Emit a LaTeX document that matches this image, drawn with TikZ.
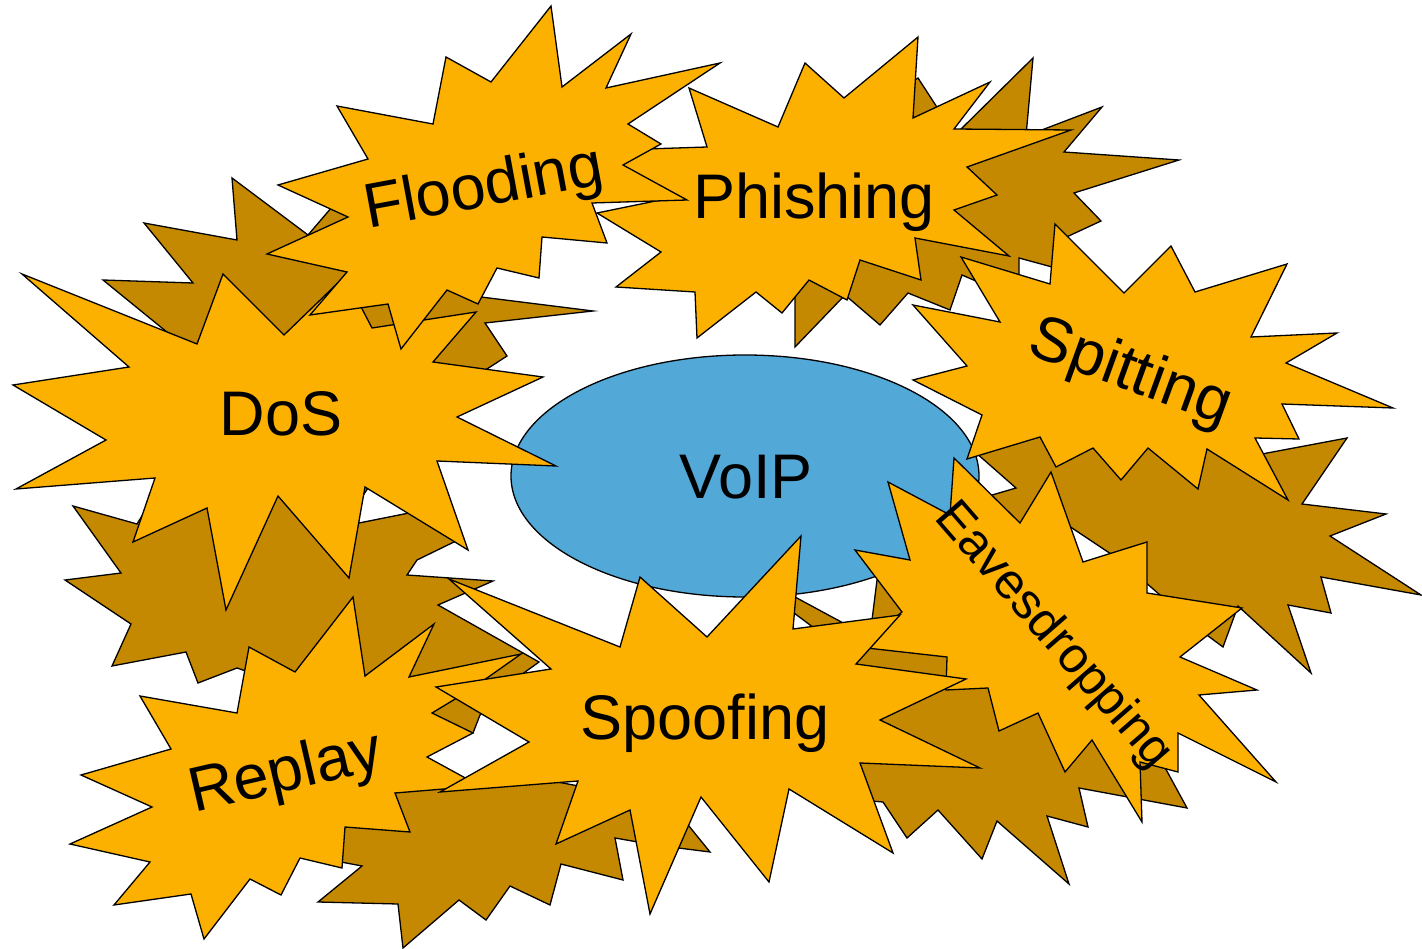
\documentclass[tikz,border=0pt]{standalone}
\usepackage{fontspec}
\setmainfont{Liberation Sans}
\definecolor{burstfill}{RGB}{252,176,0}
\definecolor{burstback}{RGB}{196,137,0}
\definecolor{voipblue}{RGB}{82,168,214}
\tikzset{
  frontface/.style={draw=black, fill=burstfill, line width=1.3pt},
  backface/.style={draw=black, fill=burstback, line width=1.3pt},
  hubface/.style={draw=black, fill=voipblue, line width=1.3pt},
  bigtext/.style={font=\fontsize{63}{70}\selectfont, inner sep=0pt},
  smalltext/.style={font=\fontsize{50}{56}\selectfont, inner sep=0pt},
}
\begin{document}
\begin{tikzpicture}[x=1pt,y=-1pt]
\useasboundingbox (0,0) rectangle (1422,949);

% ---- extruded back faces of the bursts ----
% DoS
\draw[backface] (103,280) -- (193,283) -- (144,223) -- (237,240) -- (232,178) -- (308,235) -- (332,207) -- (420,220) -- (465,295) -- (593,311) -- (485,323) -- (507,356) -- (470,380) -- (400,440) -- (340,530) -- (359,523) -- (409,513) -- (458,540) -- (417,560) -- (407,575) -- (493,581) -- (438,605) -- (539,662) -- (500,690) -- (480,715) -- (473,733) -- (440,730) -- (380,700) -- (300,690) -- (237,668) -- (198,683) -- (186,652) -- (112,666) -- (131,624) -- (65,580) -- (121,573) -- (73,506) -- (137,524) -- (170,470) -- (200,359) -- cycle;
% Phishing
\draw[backface] (880,100) -- (918,78) -- (955,135) -- (1033,58) -- (1026,136) -- (1102,107) -- (1064,152) -- (1179,160) -- (1074,193) -- (1101,221) -- (1060,240) -- (1052,267) -- (1019,258) -- (1019,285) -- (985,285) -- (962,275) -- (950,310) -- (908,293) -- (880,325) -- (845,295) -- (795,347) -- (795,297) -- (790,280) -- (800,200) -- cycle;
% Spitting
\draw[backface] (972,445) -- (1100,430) -- (1200,440) -- (1230,460) -- (1347,438) -- (1302,504) -- (1386,514) -- (1330,536) -- (1421,595) -- (1321,577) -- (1331,613) -- (1288,605) -- (1311,673) -- (1238,606) -- (1223,647) -- (1200,630) -- (1120,560) -- (1060,520) -- (1020,540) -- (975,500) -- (1016,488) -- (975,452) -- cycle;
% Eavesdropping
\draw[backface] (877,580) -- (930,560) -- (1150,620) -- (1150,740) -- (1187,808) -- (1079,788) -- (1088,827) -- (1047,816) -- (1069,884) -- (997,821) -- (982,859) -- (938,810) -- (907,838) -- (883,802) -- (860,800) -- (820,700) -- (830,640) -- (790,610) -- (795,597) -- (845,624) -- (872,620) -- cycle;
% Replay
\draw[backface] (330,830) -- (320,858) -- (362,866) -- (318,902) -- (398,904) -- (403,948) -- (459,900) -- (486,920) -- (510,886) -- (550,905) -- (561,864) -- (623,880) -- (615,838) -- (655,845) -- (710,852) -- (680,815) -- (600,790) -- (520,775) -- (470,786) -- (400,785) -- cycle;

% ---- central ellipse ----
\draw[hubface] (745,476) ellipse [x radius=234, y radius=121];

% ---- front faces of the bursts ----
% Phishing
\draw[frontface] (689,88) -- (778,127) -- (805,63) -- (844,98) -- (918,37) -- (913,118) -- (990,82) -- (954,129) -- (1071,130) -- (967,167) -- (997,195) -- (954,210) -- (1009,256) -- (915,238) -- (921,280) -- (860,260) -- (847,300) -- (809,280) -- (782,313) -- (756,292) -- (697,338) -- (695,292) -- (616,287) -- (661,252) -- (597,213) -- (675,197) -- (612,175) -- (615,150) -- (707,147) -- cycle;
% Spitting
\draw[frontface] (1055,224) -- (1124,293) -- (1171,246) -- (1195,292) -- (1287,264) -- (1251,337) -- (1337,333) -- (1286,363) -- (1393,408) -- (1282,404) -- (1299,439) -- (1255,438) -- (1288,500) -- (1207,449) -- (1198,489) -- (1148,448) -- (1121,480) -- (1093,448) -- (1056,467) -- (1040,437) -- (967,459) -- (982,415) -- (913,380) -- (967,366) -- (913,305) -- (1000,322) -- (961,257) -- (1050,284) -- cycle;
% DoS
\draw[frontface] (22,274) -- (197,344) -- (223,274) -- (284,335) -- (345,276) -- (372,328) -- (476,312) -- (433,362) -- (543,377) -- (457,417) -- (556,466) -- (437,461) -- (468,550) -- (365,487) -- (349,578) -- (278,496) -- (226,610) -- (207,508) -- (133,542) -- (155,478) -- (16,489) -- (106,440) -- (13,385) -- (129,367) -- cycle;
% Flooding
\draw[frontface] (337,106) -- (433,124) -- (446,57) -- (491,82) -- (551,6) -- (562,87) -- (631,34) -- (606,88) -- (720,63) -- (628,124) -- (661,144) -- (623,165) -- (687,200) -- (592,203) -- (607,243) -- (542,237) -- (539,278) -- (497,268) -- (478,304) -- (447,290) -- (401,349) -- (388,304) -- (310,315) -- (347,272) -- (267,254) -- (348,217) -- (278,185) -- (368,159) -- cycle;
% Eavesdropping
\draw[frontface] (954,458) -- (1020,523) -- (1051,472) -- (1083,562) -- (1147,542) -- (1147,593) -- (1242,608) -- (1180,657) -- (1257,690) -- (1199,695) -- (1276,782) -- (1178,733) -- (1178,772) -- (1140,762) -- (1142,822) -- (1092,740) -- (1065,772) -- (1038,713) -- (999,731) -- (988,688) -- (946,690) -- (947,657) -- (858,647) -- (902,612) -- (855,550) -- (910,560) -- (888,482) -- (950,515) -- cycle;
% Replay
\draw[frontface] (140,696) -- (237,713) -- (249,647) -- (295,672) -- (353,597) -- (365,676) -- (434,624) -- (409,677) -- (521,654) -- (470,690) -- (432,713) -- (473,733) -- (427,757) -- (480,786) -- (395,793) -- (410,832) -- (345,827) -- (342,868) -- (300,858) -- (281,895) -- (250,879) -- (204,939) -- (191,894) -- (114,905) -- (150,862) -- (70,844) -- (152,807) -- (81,775) -- (171,749) -- cycle;
% Spoofing
\draw[frontface] (449,579) -- (620,647) -- (640,577) -- (707,637) -- (801,536) -- (793,629) -- (900,615) -- (856,664) -- (966,679) -- (880,720) -- (980,768) -- (860,763) -- (893,853) -- (789,789) -- (769,882) -- (701,797) -- (650,914) -- (630,810) -- (556,844) -- (578,781) -- (440,792) -- (529,742) -- (436,687) -- (551,669) -- cycle;

% ---- labels ----
\node[bigtext] (voip) at (746,477) {VoIP};
\node[bigtext] (dos) at (281,414) {DoS};
\node[bigtext, rotate=10.5] (flooding) at (484,190) {Flooding};
\node[bigtext] (phishing) at (814,202) {Phishing};
\node[bigtext, rotate=-20] (spitting) at (1130,374) {Spitting};
\node[smalltext, rotate=-49] (eaves) at (1053,636) {Eavesdropping};
\node[bigtext] (spoofing) at (705,723) {Spoofing};
\node[bigtext, rotate=13] (replay) at (286,775) {Replay};
\end{tikzpicture}
\end{document}
